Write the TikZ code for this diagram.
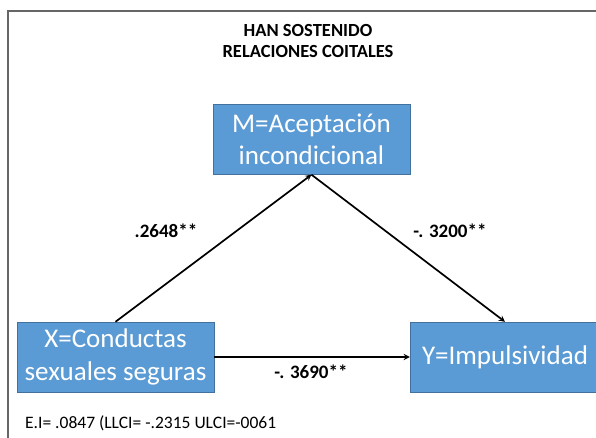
\documentclass[tikz,border=0pt]{standalone}
\usepackage{fontspec}
\setmainfont{Carlito}
\usepackage{tikz}
\usetikzlibrary{arrows,positioning}
\definecolor{boxblue}{HTML}{5B9BD5}
\definecolor{boxedge}{HTML}{41719C}
\tikzset{var box/.style={
    draw=boxedge,
    fill=boxblue,
    text=white,
    minimum width=#1,
    minimum height=70pt,
    align=center,
    inner sep=0pt,
    font=\fontsize{27}{32.5}\selectfont
  },
  var box/.default=197pt,
  coef/.style={font=\fontsize{19}{22}\selectfont\bfseries},
  path arrow/.style={draw, line width=1.7pt, -stealth}
}

\begin{document}
\begin{tikzpicture}[x=1pt,y=-1pt]
    \useasboundingbox (0,0) rectangle (596,438);
    \draw[gray!80!black, line width=1.8pt] (8,438) -- (8,11) -- (596,11);
    \node[font=\fontsize{18.5}{21}\selectfont\bfseries, align=center] (title) at (308,41) {HAN SOSTENIDO\\RELACIONES COITALES};
    \node[var box] (M) at (311.5,139.5) {M=Aceptación\\incondicional};
    \node[var box] (X) at (115.5,357) {X=Conductas\\sexuales seguras};
    \node[var box=190pt] (Y) at (505,357) {Y=Impulsividad};
    \draw[path arrow] (X.north) -- (M.south);
    \draw[path arrow] (M.south) -- (Y.north);
    \draw[path arrow] (X.east) -- (Y.west);
    \node[coef] (a) at (166,231) {.2648**};
    \node[coef] (b) at (450,231) {-. 3200**};
    \node[coef] (c) at (311,372) {-. 3690**};
    \node[anchor=base west, font=\fontsize{17.5}{20}\selectfont, inner sep=0pt] (ei) at (25,428) {E.I= .0847 (LLCI= -.2315 ULCI=-0061};
\end{tikzpicture}
\end{document}
